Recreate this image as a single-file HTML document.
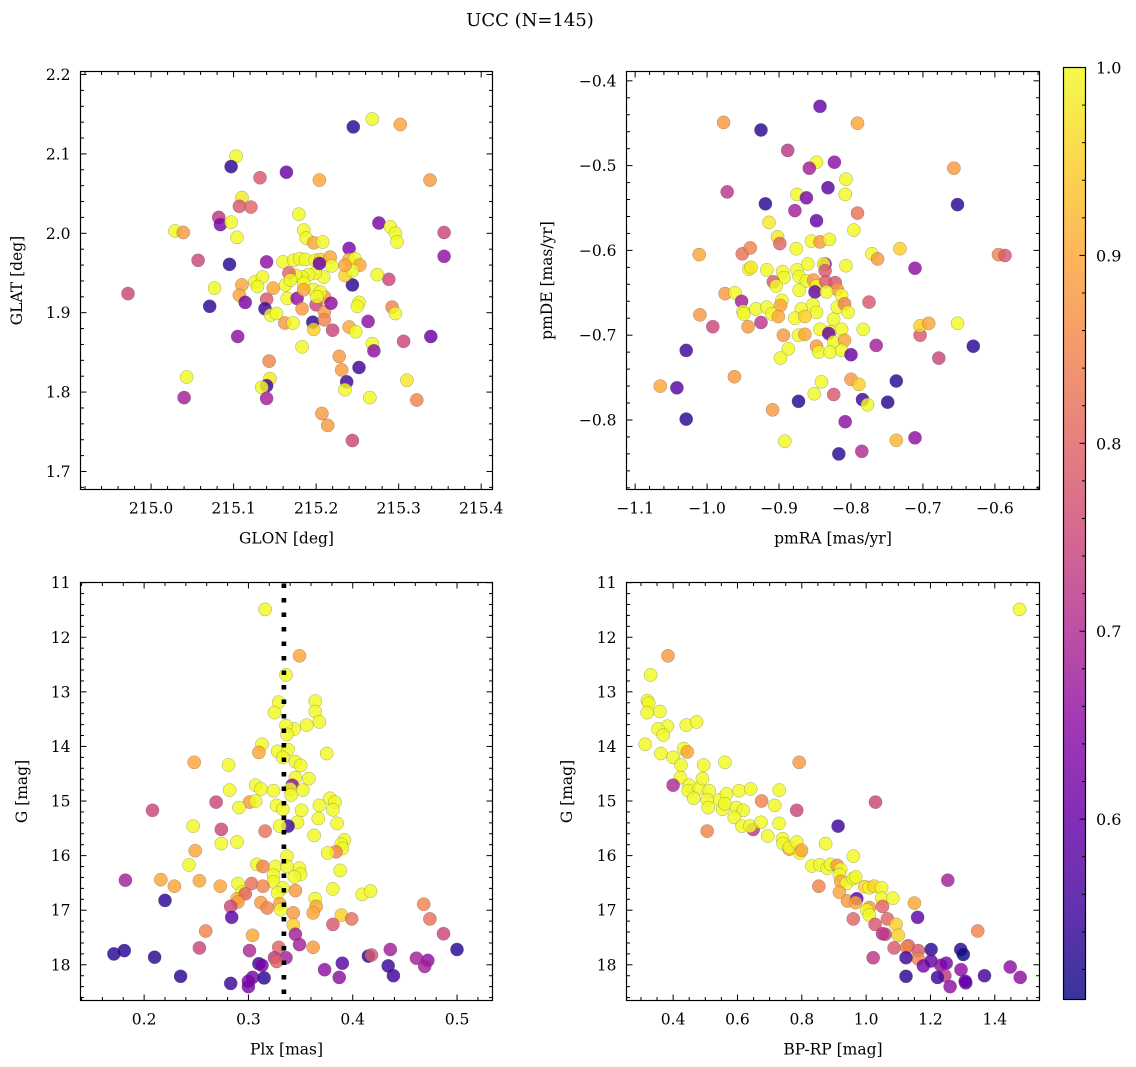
<!DOCTYPE html>
<html><head><meta charset="utf-8"><title>UCC (N=145)</title>
<style>
html,body{margin:0;padding:0;background:#fff;}
svg{display:block;font-family:"DejaVu Serif","Liberation Serif",serif;}
</style></head>
<body>
<svg id="fig" width="1136" height="1067" viewBox="0 0 1136 1067" xmlns="http://www.w3.org/2000/svg">
<defs>
<linearGradient id="plasma" x1="0" y1="1" x2="0" y2="0">
<stop offset="0" stop-color="#0d0887"/><stop offset="0.1" stop-color="#41049d"/><stop offset="0.2" stop-color="#6a00a8"/><stop offset="0.3" stop-color="#8f0da4"/><stop offset="0.4" stop-color="#b12a90"/><stop offset="0.5" stop-color="#cc4778"/><stop offset="0.6" stop-color="#e16462"/><stop offset="0.7" stop-color="#f2844b"/><stop offset="0.8" stop-color="#fca636"/><stop offset="0.9" stop-color="#fcce25"/><stop offset="1" stop-color="#f0f921"/>
</linearGradient>
</defs>
<text x="530" y="26" font-size="18" text-anchor="middle">UCC (N=145)</text>
</svg>
<script>
// ---- Panel 1: GLON vs GLAT ----
const tlGlon=[215.245,215.268,215.302,215.103,215.097,215.164,215.132,215.204,215.338,215.110,215.107,215.121,215.082,215.084,215.097,215.179,215.029,215.039,215.104,215.276,215.290,215.296,215.298,215.355,215.355,215.057,215.095,215.140,215.185,215.188,215.197,215.208,215.240,215.288,215.274,214.972,215.077,215.071,215.110,215.107,215.114,215.126,215.135,215.129,215.148,215.140,215.138,215.145,215.152,215.105,215.043,215.040,215.143,215.144,215.140,215.134,215.140,215.162,215.172,215.183,215.196,215.197,215.165,215.177,215.183,215.200,215.210,215.210,215.210,215.218,215.220,215.244,215.240,215.247,215.253,215.235,215.244,215.252,215.250,215.240,215.248,215.263,215.292,215.296,215.339,215.306,215.268,215.270,215.228,215.231,215.252,215.237,215.235,215.265,215.310,215.322,215.207,215.214,215.244,215.160,215.173,215.180,215.187,215.199,215.205,215.217,215.219,215.209,215.199,215.191,215.183,215.175,215.167,215.163,215.169,215.185,215.197,215.205,215.201,215.185,215.204,215.235];
const tlGlat=[2.134,2.144,2.137,2.097,2.084,2.077,2.070,2.067,2.067,2.045,2.034,2.033,2.020,2.011,2.014,2.024,2.003,2.001,1.995,2.013,2.008,2.000,1.989,2.001,1.971,1.966,1.961,1.964,2.004,1.994,1.988,1.989,1.981,1.942,1.948,1.924,1.931,1.908,1.935,1.922,1.913,1.939,1.945,1.933,1.931,1.917,1.905,1.897,1.899,1.870,1.819,1.793,1.839,1.817,1.808,1.806,1.792,1.887,1.887,1.857,1.888,1.879,1.918,1.918,1.905,1.910,1.920,1.901,1.891,1.912,1.878,1.935,1.967,1.968,1.960,1.947,1.953,1.913,1.908,1.882,1.876,1.889,1.907,1.899,1.870,1.864,1.861,1.852,1.845,1.828,1.831,1.813,1.803,1.793,1.815,1.790,1.773,1.758,1.739,1.964,1.966,1.968,1.967,1.966,1.967,1.970,1.959,1.945,1.950,1.948,1.945,1.947,1.950,1.935,1.941,1.937,1.929,1.926,1.920,1.929,1.962,1.960];
const tlProb=[.53,1,.9,1,.53,.6,.78,.9,.88,.98,.78,.8,.72,.62,1,1,1,.88,1,.62,1,1,1,.75,.65,.75,.53,.65,1,1,.9,1,.62,.75,1,.75,1,.53,.9,.9,.62,1,1,1,.9,.78,.55,1,1,.65,1,.68,.85,.98,.55,1,.68,.88,1,1,.53,.95,1,.65,.88,.75,.88,.88,.85,.65,.75,.53,.92,1,.9,.95,1,1,1,.9,1,.65,.85,1,.6,.75,1,.65,.88,.88,.55,.55,1,1,.98,.85,.88,.88,.75,1,1,1,1,1,.95,.9,1,1,1,1,1,1,.8,1,1,1,1,1,1,.9,.6,.9];
// ---- Panel 2: pmRA vs pmDE ----
const trPmra=[-0.843,-0.977,-0.925,-0.791,-0.888,-0.848,-0.858,-0.823,-0.657,-0.972,-0.832,-0.807,-0.808,-0.875,-0.862,-0.919,-0.652,-0.878,-0.791,-0.848,-0.914,-0.796,-0.902,-0.899,-0.876,-0.855,-0.843,-0.830,-1.011,-0.951,-0.940,-0.732,-0.771,-0.763,-0.595,-0.586,-0.711,-0.942,-0.939,-0.917,-0.895,-0.893,-0.875,-0.860,-0.836,-0.838,-0.807,-0.836,-0.908,-0.904,-0.872,-0.862,-0.852,-0.848,-0.850,-0.835,-0.822,-0.819,-0.834,-0.813,-0.872,-0.975,-0.961,-0.952,-0.896,-0.898,-0.932,-0.917,-0.950,-0.949,-0.910,-0.901,-0.869,-0.853,-0.848,-0.878,-0.864,-0.824,-0.819,-0.809,-0.804,-0.775,-1.010,-0.992,-0.943,-0.925,-0.843,-0.829,-0.831,-0.813,-0.783,-0.894,-0.873,-0.864,-0.824,-0.809,-0.848,-0.887,-0.898,-0.845,-0.829,-0.813,-0.800,-0.765,-0.704,-0.704,-0.692,-0.652,-0.630,-0.678,-1.029,-0.962,-1.065,-1.042,-1.029,-0.841,-0.851,-0.800,-0.789,-0.824,-0.737,-0.873,-0.784,-0.777,-0.749,-0.909,-0.808,-0.892,-0.737,-0.711,-0.817,-0.785];
const trPmde=[-0.430,-0.449,-0.458,-0.450,-0.482,-0.496,-0.503,-0.496,-0.503,-0.531,-0.526,-0.516,-0.534,-0.534,-0.538,-0.545,-0.546,-0.553,-0.556,-0.565,-0.567,-0.576,-0.584,-0.592,-0.598,-0.589,-0.590,-0.587,-0.605,-0.604,-0.597,-0.598,-0.604,-0.610,-0.605,-0.606,-0.621,-0.622,-0.620,-0.623,-0.625,-0.632,-0.623,-0.616,-0.616,-0.616,-0.618,-0.624,-0.637,-0.642,-0.631,-0.636,-0.635,-0.642,-0.649,-0.637,-0.638,-0.646,-0.649,-0.653,-0.647,-0.651,-0.650,-0.660,-0.659,-0.665,-0.669,-0.667,-0.672,-0.675,-0.675,-0.678,-0.669,-0.664,-0.673,-0.680,-0.678,-0.681,-0.667,-0.663,-0.673,-0.661,-0.676,-0.690,-0.690,-0.685,-0.693,-0.696,-0.698,-0.693,-0.693,-0.700,-0.700,-0.699,-0.708,-0.706,-0.713,-0.716,-0.727,-0.720,-0.720,-0.718,-0.723,-0.712,-0.700,-0.689,-0.686,-0.686,-0.713,-0.727,-0.718,-0.749,-0.760,-0.762,-0.799,-0.755,-0.769,-0.752,-0.758,-0.770,-0.754,-0.778,-0.776,-0.782,-0.779,-0.788,-0.802,-0.825,-0.824,-0.821,-0.840,-0.837];
const trProb=[.6,.88,.53,.9,.72,1,.68,.65,.88,.72,.58,1,1,1,.62,.53,.53,.68,.82,.6,.98,1,.98,.8,1,1,.88,1,.9,.82,.85,.95,1,.88,.85,.78,.65,1,.98,1,1,1,1,1,.65,1,1,.78,.78,1,1,1,.88,1,.6,.78,.78,.88,1,1,1,.88,1,.68,1,.9,1,1,1,1,1,.9,1,1,1,1,.95,1,1,.85,1,.78,.88,.75,.88,.72,1,1,.6,1,1,.88,1,.9,1,.9,.88,1,1,1,1,1,.6,.68,.78,.95,.9,1,.53,.75,.55,.88,.9,.58,.53,1,1,.88,.95,.78,.53,.53,.55,1,.53,.88,.65,1,.92,.65,.53,.7];
// ---- Panel 3: Plx vs G ----
const blPlx=[0.316,0.349,0.336,0.329,0.325,0.364,0.364,0.368,0.356,0.344,0.336,0.337,0.313,0.310,0.328,0.338,0.333,0.375,0.248,0.281,0.345,0.350,0.345,0.358,0.342,0.307,0.312,0.324,0.340,0.341,0.352,0.282,0.269,0.208,0.301,0.307,0.291,0.327,0.333,0.351,0.368,0.378,0.383,0.381,0.367,0.347,0.338,0.330,0.385,0.247,0.274,0.316,0.363,0.274,0.289,0.392,0.389,0.390,0.384,0.376,0.249,0.337,0.243,0.308,0.314,0.326,0.337,0.349,0.350,0.344,0.388,0.324,0.324,0.333,0.182,0.216,0.229,0.253,0.273,0.290,0.303,0.314,0.328,0.345,0.381,0.409,0.417,0.220,0.294,0.289,0.297,0.290,0.312,0.330,0.318,0.331,0.364,0.365,0.362,0.343,0.389,0.283,0.284,0.399,0.468,0.474,0.487,0.343,0.381,0.259,0.304,0.345,0.349,0.253,0.301,0.329,0.362,0.171,0.181,0.210,0.325,0.336,0.327,0.310,0.313,0.304,0.300,0.300,0.315,0.283,0.235,0.373,0.387,0.390,0.415,0.418,0.436,0.434,0.439,0.461,0.472,0.469,0.500];
const blG=[11.49,12.34,12.69,13.19,13.38,13.17,13.36,13.55,13.61,13.68,13.62,13.78,13.96,14.11,14.09,14.06,14.20,14.13,14.29,14.34,14.28,14.35,14.57,14.59,14.71,14.71,14.78,14.81,14.78,14.89,14.80,14.80,15.02,15.17,15.02,15.00,15.12,15.08,15.15,15.17,15.08,14.95,15.02,15.16,15.32,15.39,15.46,15.46,15.41,15.46,15.52,15.55,15.63,15.78,15.75,15.71,15.79,15.87,15.93,15.95,15.91,16.01,16.17,16.16,16.20,16.20,16.20,16.23,16.34,16.39,16.27,16.36,16.48,16.59,16.45,16.44,16.56,16.46,16.56,16.51,16.51,16.56,16.68,16.64,16.61,16.71,16.65,16.82,16.67,16.79,16.70,16.85,16.86,16.88,16.96,16.99,16.79,16.93,17.05,17.05,17.09,16.93,17.13,17.16,16.89,17.16,17.43,17.27,17.26,17.38,17.46,17.44,17.63,17.69,17.74,17.68,17.68,17.80,17.74,17.86,17.87,17.87,17.94,17.98,18.01,18.23,18.30,18.40,18.24,18.34,18.21,18.09,18.23,17.97,17.84,17.82,17.72,18.02,18.20,17.88,17.92,18.03,17.72];
const blProb=[1,.9,1,1,1,1,1,1,1,1,1,1,1,.9,1,1,1,1,.9,1,1,1,1,1,.65,1,1,1,1,1,1,1,.75,.75,.88,1,1,1,1,1,1,1,1,1,1,1,.55,1,1,1,.75,.82,1,1,1,1,1,1,.85,1,.9,1,1,1,.85,1,1,1,1,1,1,1,1,1,.68,.9,.9,.9,.9,1,.82,.85,1,.88,1,1,1,.53,1,.92,.8,.88,.88,.9,.85,1,1,.9,.9,.88,.95,.75,.58,.82,.85,.82,.75,.95,.78,.85,.9,.68,.68,.75,.7,.8,.88,.53,.53,.53,.72,.68,.8,.55,.62,.62,.62,.62,.53,.55,.53,.65,.65,.58,.53,.78,.68,.55,.55,.68,.65,.68,.53];
const plxMedian=[0.334];
// ---- Panel 4: BP-RP vs G ----
const brColor=[1.477,0.384,0.330,0.320,0.324,0.319,0.359,0.382,0.353,0.369,0.441,0.473,0.313,0.362,0.400,0.433,0.444,0.424,0.495,0.561,0.792,0.423,0.400,0.450,0.447,0.481,0.464,0.491,0.512,0.506,0.509,0.545,0.554,0.566,0.561,0.605,0.641,0.597,0.618,0.590,0.614,0.506,0.675,0.716,0.730,0.729,0.649,0.639,0.673,0.694,0.740,0.742,0.761,0.761,0.784,0.784,0.794,0.799,0.874,0.913,0.960,1.029,0.831,0.856,0.879,0.889,0.910,0.921,0.917,0.921,0.939,0.960,0.968,0.853,0.917,0.942,0.971,0.967,0.996,1.010,1.024,1.048,1.048,1.083,1.051,1.010,1.002,1.010,0.960,1.066,1.093,1.100,1.150,1.160,1.254,1.028,1.059,1.051,1.087,1.022,1.131,1.126,1.162,1.162,1.124,1.178,1.202,1.202,1.232,1.249,1.245,1.222,1.261,1.124,1.295,1.294,1.302,1.310,1.308,1.368,1.347,1.448,1.479];
const brG=[11.49,12.34,12.69,13.16,13.21,13.38,13.36,13.63,13.68,13.79,13.61,13.55,13.96,14.13,14.20,14.04,14.10,14.34,14.34,14.29,14.29,14.57,14.71,14.71,14.81,14.77,14.95,14.59,14.81,14.98,15.12,14.98,15.15,14.87,15.05,14.81,14.78,15.12,15.17,15.30,15.46,15.55,15.00,15.08,14.80,15.41,15.52,15.46,15.39,15.64,15.69,15.78,15.88,15.85,15.17,15.75,15.95,15.90,15.78,15.46,16.01,15.02,16.19,16.17,16.23,16.16,16.18,16.25,16.35,16.47,16.51,16.42,16.39,16.56,16.67,16.83,16.79,16.86,16.57,16.59,16.56,16.59,16.78,16.78,16.93,16.95,17.00,17.09,17.16,17.16,17.26,17.46,16.87,17.13,16.45,17.26,17.44,17.43,17.69,17.87,17.65,17.68,17.74,17.89,17.87,18.02,17.72,17.93,18.01,17.97,18.20,18.23,18.40,18.21,18.09,17.72,17.81,18.33,18.30,18.20,17.38,18.04,18.23];
const brProb=[1,.88,1,1,1,1,1,1,1,1,1,1,1,1,1,1,.9,1,1,1,.88,1,.7,1,1,1,1,1,1,1,1,1,1,1,1,1,1,1,1,1,1,.85,.85,1,1,1,.72,1,1,1,1,1,.9,1,.75,1,1,.9,1,.55,1,.75,1,1,1,1,.88,1,1,.9,1,1,1,.85,.9,.88,.58,.9,.95,1,.95,1,1,1,.8,.88,1,1,.8,.8,.95,.95,.9,.58,.68,.78,.75,.72,.78,.72,.8,.85,.78,.85,.55,.62,.53,.6,.65,.62,.72,.55,.65,.53,.65,.53,.5,.58,.6,.55,.85,.65,.65];
// ---- tick labels ----
const tlXTicks=[215.0,215.1,215.2,215.3,215.4];
const tlYTicks=[1.7,1.8,1.9,2.0,2.1,2.2];
const trXTicks=[-1.1,-1.0,-0.9,-0.8,-0.7,-0.6];
const trYTicks=[-0.8,-0.7,-0.6,-0.5,-0.4];
const blXTicks=[0.2,0.3,0.4,0.5];
const gTicks=[11,12,13,14,15,16,17,18];
const brXTicks=[0.4,0.6,0.8,1.0,1.2,1.4];
const cbTicks=[0.6,0.7,0.8,0.9,1.0];
const cbRange=[0.504,1.0];

const NS='http://www.w3.org/2000/svg';
const svg=document.getElementById('fig');
function mk(tag,attrs,parent){const e=document.createElementNS(NS,tag);for(const k in attrs)e.setAttribute(k,attrs[k]);(parent||svg).appendChild(e);return e;}
const stops=[[0,'#0d0887'],[0.1,'#41049d'],[0.2,'#6a00a8'],[0.3,'#8f0da4'],[0.4,'#b12a90'],[0.5,'#cc4778'],[0.6,'#e16462'],[0.7,'#f2844b'],[0.8,'#fca636'],[0.9,'#fcce25'],[1,'#f0f921']];
function hex(h){return [parseInt(h.substr(1,2),16),parseInt(h.substr(3,2),16),parseInt(h.substr(5,2),16)];}
function plasma(v){let t=(v-cbRange[0])/(cbRange[1]-cbRange[0]);t=Math.max(0,Math.min(1,t));
 for(let i=0;i<stops.length-1;i++){if(t<=stops[i+1][0]){const a=hex(stops[i][1]),b=hex(stops[i+1][1]);const f=(t-stops[i][0])/(stops[i+1][0]-stops[i][0]);return 'rgb('+a.map((c,j)=>Math.round(c+(b[j]-c)*f)).join(',')+')';}}return stops[10][1];}
function fmt(v,d){const s=Math.abs(v).toFixed(d);return (v<-1e-9?'\u2212':'')+s;}

function panel(o){
 const g=mk('g',{});
 
 
 const sx=v=>o.x0+(v-o.xd[0])/(o.xd[1]-o.xd[0])*(o.x1-o.x0);
 const sy=v=>o.y0+(v-o.yd[0])/(o.yd[1]-o.yd[0])*(o.y1-o.y0);
 const frame=mk('rect',{x:o.x0,y:o.y0,width:o.x1-o.x0,height:o.y1-o.y0,fill:'#fff',stroke:'none'},g);
 
 
 if(o.vline){const L=mk('line',{x1:sx(o.vline[0]),x2:sx(o.vline[0]),y1:o.y0+1,y2:o.y1,stroke:'#000','stroke-width':4.5,'stroke-dasharray':'4.5 10'},g);
  
  }
 const pts=mk('g',{},g);
 
 
 for(let i=0;i<o.xs.length;i++){
  const c=mk('circle',{cx:sx(o.xs[i]).toFixed(1),cy:sy(o.ys[i]).toFixed(1),r:6.6,fill:plasma(o.ps[i]),'fill-opacity':0.82,stroke:'#555','stroke-opacity':0.5,'stroke-width':0.5},pts);
  
  
 }
 if(o.vline){const L2=mk('line',{x1:sx(o.vline[0]),x2:sx(o.vline[0]),y1:o.y0+1,y2:o.y1,stroke:'#000','stroke-width':4.5,'stroke-dasharray':'4.5 10'},g);}
 // ticks
 const tk=mk('g',{stroke:'#000','stroke-width':1},g);
 
 
 const lo=Math.min(o.xd[0],o.xd[1]),hi=Math.max(o.xd[0],o.xd[1]);
 for(let v=Math.ceil(lo/o.xmin-1e-6)*o.xmin;v<=hi+1e-9;v+=o.xmin){const X=sx(v);const maj=o.xt.some(t=>Math.abs(t-v)<1e-6);const L=maj?6:3.5;
  mk('line',{x1:X,x2:X,y1:o.y1,y2:o.y1-L},tk);mk('line',{x1:X,x2:X,y1:o.y0,y2:o.y0+L},tk);}
 const ylo=Math.min(o.yd[0],o.yd[1]),yhi=Math.max(o.yd[0],o.yd[1]);
 for(let v=Math.ceil(ylo/o.ymin-1e-6)*o.ymin;v<=yhi+1e-9;v+=o.ymin){const Y=sy(v);const maj=o.yt.some(t=>Math.abs(t-v)<1e-6);const L=maj?6:3.5;
  mk('line',{x1:o.x0,x2:o.x0+L,y1:Y,y2:Y},tk);mk('line',{x1:o.x1,x2:o.x1-L,y1:Y,y2:Y},tk);}
 mk('rect',{x:o.x0,y:o.y0,width:o.x1-o.x0,height:o.y1-o.y0,fill:'none',stroke:'#000','stroke-width':1.2},g);
 o.xt.forEach(v=>{const t=mk('text',{x:sx(v),y:o.y1+24,'font-size':15.5,'text-anchor':'middle'},g);t.textContent=fmt(v,o.xdec);
  
  });
 o.yt.forEach(v=>{const t=mk('text',{x:o.x0-10,y:sy(v)+5.5,'font-size':15.5,'text-anchor':'end'},g);t.textContent=fmt(v,o.ydec);
  
  });
 const xl=mk('text',{x:(o.x0+o.x1)/2,y:o.y1+54,'font-size':15.5,'text-anchor':'middle'},g);xl.textContent=o.xlab;
 
 
 const cx=o.ylx,cy=(o.y0+o.y1)/2;
 const yl=mk('text',{x:cx,y:cy,'font-size':15.5,'text-anchor':'middle',transform:'rotate(-90 '+cx+' '+cy+')'},g);yl.textContent=o.ylab;
 
 
}
panel({name:'panel-glon-glat',x0:80.5,x1:492.5,y0:71.5,y1:489.5,xd:[214.9145,215.4137],yd:[2.2038,1.6773],xs:tlGlon,ys:tlGlat,ps:tlProb,xt:tlXTicks,yt:tlYTicks,xmin:0.02,ymin:0.02,xdec:1,ydec:1,xlab:'GLON [deg]',ylab:'GLAT [deg]',ylx:22});
panel({name:'panel-pmra-pmde',x0:626.5,x1:1039.5,y0:71.5,y1:489.5,xd:[-1.112,-0.538],yd:[-0.389,-0.882],xs:trPmra,ys:trPmde,ps:trProb,xt:trXTicks,yt:trYTicks,xmin:0.02,ymin:0.02,xdec:1,ydec:1,xlab:'pmRA [mas/yr]',ylab:'pmDE [mas/yr]',ylx:552});
panel({name:'panel-plx-g',x0:80.5,x1:492.5,y0:582.5,y1:1000.5,xd:[0.139,0.534],yd:[10.997,18.654],xs:blPlx,ys:blG,ps:blProb,xt:blXTicks,yt:gTicks,xmin:0.02,ymin:0.2,xdec:1,ydec:0,xlab:'Plx [mas]',ylab:'G [mag]',ylx:27,vline:plxMedian});
panel({name:'panel-bprp-g',x0:626.5,x1:1039.5,y0:582.5,y1:1000.5,xd:[0.255,1.539],yd:[10.997,18.654],xs:brColor,ys:brG,ps:brProb,xt:brXTicks,yt:gTicks,xmin:0.05,ymin:0.2,xdec:1,ydec:0,xlab:'BP-RP [mag]',ylab:'G [mag]',ylx:572});
// colorbar
const cb=mk('g',{});


const cbx=1063.5,cbw=22,cby0=67.5,cby1=999.5;
const cy=v=>cby1-(v-cbRange[0])/(cbRange[1]-cbRange[0])*(cby1-cby0);
mk('rect',{x:cbx,y:cby0,width:cbw,height:cby1-cby0,fill:'url(#plasma)','fill-opacity':0.82},cb);
for(let v=0.52;v<=1.0001;v+=0.02){const Y=cy(v);const maj=cbTicks.some(t=>Math.abs(t-v)<1e-6);mk('line',{x1:cbx+cbw,x2:cbx+cbw-(maj?6:3.5),y1:Y,y2:Y,stroke:'#000'},cb);}
mk('rect',{x:cbx,y:cby0,width:cbw,height:cby1-cby0,fill:'none',stroke:'#000','stroke-width':1.2},cb);
cbTicks.forEach(v=>{const t=mk('text',{x:1096,y:cy(v)+6,'font-size':16},cb);t.textContent=v.toFixed(1);
 
 });
</script>
</body></html>
